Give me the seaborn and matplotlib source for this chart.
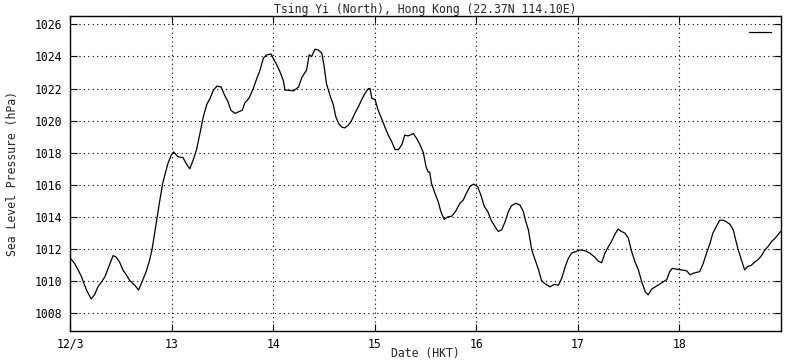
import matplotlib
matplotlib.use('Agg')
import matplotlib.pyplot as plt
import seaborn as sns
import pandas as pd

# Hours after 12 Mar 00:00 HKT
hours = [0.2, 1.1, 1.9, 2.7, 3.1, 3.9, 5.0, 5.8, 6.6, 7.4, 8.2, 9.0, 9.6, 10.2,
         10.9, 11.7, 12.5, 13.3, 14.1, 15.3, 16.2, 17.0, 18.0, 18.8, 19.4, 20.0,
         20.6, 21.2, 21.9, 22.5, 23.1, 23.9, 24.5, 25.5, 26.7, 27.5, 28.3, 29.1,
         29.9, 30.7, 31.5, 32.3, 33.1, 33.9, 34.7, 35.7, 36.5, 37.3, 38.0, 39.0,
         39.8, 40.7, 41.3, 42.3, 43.3, 44.1, 44.9, 45.7, 46.5, 47.5, 48.0, 48.8,
         49.6, 50.4, 50.8, 51.6, 52.8, 54.0, 54.8, 55.4, 55.9, 56.5, 57.1, 57.9,
         58.7, 59.5, 60.0, 60.6, 61.4, 62.2, 62.8, 63.4, 64.2, 64.9, 65.7, 66.5,
         67.3, 68.1, 68.9, 69.7, 70.5, 70.9, 71.3, 72.1, 72.8, 73.6, 74.4, 75.2,
         76.0, 76.8, 77.6, 78.4, 79.1, 79.9, 81.1, 81.9, 82.7, 83.5, 84.1, 84.6,
         85.0, 85.4, 86.2, 87.0, 87.6, 88.4, 89.2, 90.2, 91.1, 92.1, 92.9, 93.7,
         94.5, 95.3, 96.3, 97.1, 97.9, 98.7, 99.5, 100.4, 101.2, 102.0, 102.8,
         103.6, 104.3, 105.3, 106.3, 107.1, 107.6, 108.3, 109.1, 109.8, 110.6,
         111.4, 112.2, 113.4, 114.4, 115.4, 116.2, 117.0, 117.7, 118.5, 119.5,
         120.5, 121.7, 122.8, 124.0, 124.8, 125.6, 126.4, 127.2, 127.9, 128.7,
         129.5, 130.3, 131.1, 131.9, 132.7, 133.5, 134.3, 135.1, 135.9, 136.6,
         137.4, 138.6, 139.8, 141.0, 141.7, 142.3, 143.3, 144.5, 145.7, 146.5,
         147.3, 148.0, 148.8, 149.6, 150.4, 151.2, 151.9, 152.7, 153.5, 154.3,
         155.1, 155.9, 156.7, 157.3, 158.0, 158.8, 159.4, 160.0, 161.0, 161.8,
         162.6, 163.4, 164.2, 164.9, 165.7, 166.5, 167.3, 167.9]

pressure = [1011.4, 1011.1, 1010.7, 1010.3, 1010.0, 1009.45, 1008.9, 1009.15, 1009.65,
            1009.95, 1010.25, 1010.8, 1011.2, 1011.6, 1011.5, 1011.2, 1010.7, 1010.4,
            1010.05, 1009.75, 1009.45, 1009.95, 1010.6, 1011.3, 1012.0, 1013.0, 1014.0,
            1015.0, 1016.1, 1016.7, 1017.3, 1017.85, 1018.05, 1017.75, 1017.7, 1017.3,
            1017.0, 1017.55, 1018.2, 1019.2, 1020.25, 1021.0, 1021.4, 1021.9, 1022.15,
            1022.1, 1021.6, 1021.2, 1020.65, 1020.45, 1020.55, 1020.65, 1021.1, 1021.4,
            1022.0, 1022.6, 1023.15, 1023.9, 1024.1, 1024.15, 1023.9, 1023.5, 1023.05,
            1022.5, 1021.9, 1021.9, 1021.85, 1022.1, 1022.7, 1022.95, 1023.15, 1024.1,
            1024.0, 1024.45, 1024.4, 1024.2, 1023.45, 1022.3, 1021.6, 1021.0, 1020.25,
            1019.85, 1019.6, 1019.55, 1019.7, 1020.0, 1020.45, 1020.85, 1021.3, 1021.7,
            1022.0, 1022.0, 1021.4, 1021.3, 1020.65, 1020.15, 1019.6, 1019.1, 1018.7,
            1018.2, 1018.2, 1018.5, 1019.1, 1019.05, 1019.2, 1018.9, 1018.5, 1018.0,
            1017.15, 1016.8, 1016.8, 1016.1, 1015.5, 1014.95, 1014.35, 1013.85, 1014.0,
            1014.05, 1014.35, 1014.85, 1015.05, 1015.5, 1015.9, 1016.05, 1015.9, 1015.35,
            1014.65, 1014.35, 1013.8, 1013.4, 1013.1, 1013.2, 1013.7, 1014.35, 1014.7,
            1014.85, 1014.75, 1014.35, 1013.8, 1013.2, 1011.95, 1011.4, 1010.8, 1010.05,
            1009.85, 1009.65, 1009.8, 1009.75, 1010.2, 1010.9, 1011.4, 1011.75, 1011.85,
            1011.95, 1011.9, 1011.75, 1011.5, 1011.25, 1011.15, 1011.75, 1012.15, 1012.45,
            1012.9, 1013.25, 1013.1, 1013.0, 1012.7, 1011.85, 1011.2, 1010.7, 1009.95,
            1009.35, 1009.15, 1009.5, 1009.7, 1009.9, 1010.1, 1010.6, 1010.8, 1010.75,
            1010.7, 1010.65, 1010.4, 1010.5, 1010.55, 1010.6, 1011.1, 1011.75, 1012.35,
            1013.0, 1013.4, 1013.8, 1013.8, 1013.7, 1013.55, 1013.2, 1012.55, 1011.85,
            1011.2, 1010.7, 1010.9, 1011.0, 1011.2, 1011.35, 1011.6, 1011.95, 1012.15,
            1012.45, 1012.65, 1012.9, 1013.1]

day_labels = ['12/3', '13', '14', '15', '16', '17', '18']
title = 'Tsing Yi (North), Hong Kong (22.37N 114.10E)'

start = pd.Timestamp('2024-03-12 00:00')
df = pd.DataFrame({
    'time': start + pd.to_timedelta(hours, unit='h'),
    'pressure': pressure,
})

sns.set_style('ticks')
plt.rcParams['font.family'] = ['DejaVu Sans Mono']
plt.rcParams['font.size'] = 8.3

fig = plt.figure(figsize=(8, 3.6), dpi=100)
ax = fig.add_axes([0.0875, 0.0806, 0.8888, 0.875])

sns.lineplot(data=df, x='time', y='pressure', color='black', linewidth=0.9,
             ax=ax, legend=False)

ax.set_xlim(start, start + pd.Timedelta(hours=168))
ax.set_ylim(1006.9, 1026.52)

ticks = [start + pd.Timedelta(days=i) for i in range(len(day_labels))]
ax.set_xticks(ticks)
ax.set_xticklabels(day_labels)
ax.set_yticks(range(1008, 1027, 2))

ax.grid(True, linestyle=(0, (1, 3)), color='black', linewidth=0.8)
ax.tick_params(direction='in', top=True, right=True, length=5, width=0.8,
               colors='black')
ax.tick_params(axis='x', pad=5)
ax.tick_params(axis='y', pad=6)
for s in ax.spines.values():
    s.set_color('black')
    s.set_linewidth(1)

ax.set_title(title, fontsize=8.3, pad=2)
ax.set_xlabel('')
ax.set_ylabel('Sea Level Pressure (hPa)')
ax.yaxis.set_label_coords(-0.0715, 0.5)
fig.text(425.5 / 800, 1 - 353 / 360, 'Date (HKT)', ha='center', va='center')

line = ax.get_lines()[0]
ax.legend(handles=[line], labels=[''], loc='upper right', frameon=False,
          handlelength=1.9, handletextpad=0, borderaxespad=0.5, borderpad=0.4)

fig.savefig('out.png', dpi=100)
